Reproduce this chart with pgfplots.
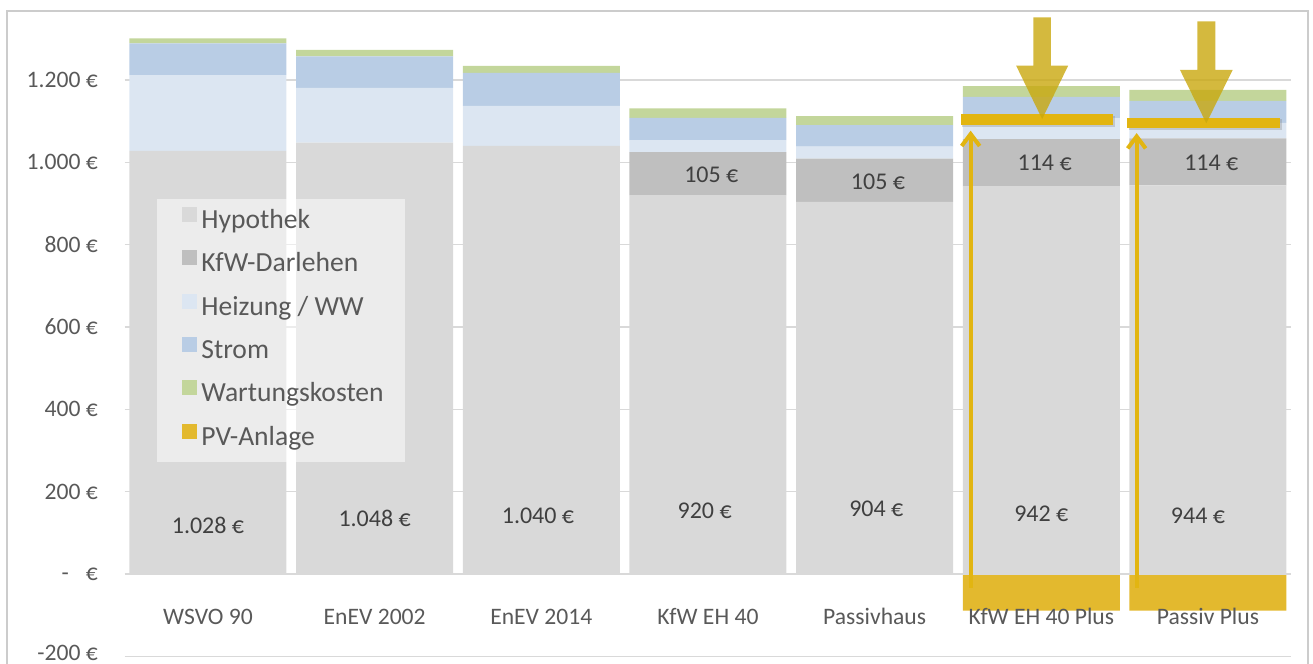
\documentclass[border=0pt]{standalone}
\usepackage{fontspec}
\setmainfont{Carlito}
\usepackage{pgfplots}
\pgfplotsset{compat=1.18}
\usetikzlibrary{arrows.meta,shadows}
\definecolor{hyp}{HTML}{D9D9D9}
\definecolor{kfw}{HTML}{BFBFBF}
\definecolor{heiz}{HTML}{DCE6F2}
\definecolor{strom}{HTML}{B9CDE5}
\definecolor{wart}{HTML}{C3D69B}
\definecolor{pv}{HTML}{E3B92E}
\definecolor{tickgray}{HTML}{595959}
\definecolor{dlgray}{HTML}{404040}
\definecolor{gridc}{HTML}{D9D9D9}
\definecolor{framegray}{HTML}{CCCCCC}
\definecolor{barsgold}{HTML}{E2B511}
\definecolor{arrowgold}{HTML}{C9A80E}
\tikzset{dl/.style={font=\fontsize{12}{14}\selectfont, text=dlgray, anchor=center, inner sep=0pt}}
\begin{document}
\begin{tikzpicture}
\useasboundingbox (-62.33pt,-3.85pt) rectangle (594.17pt,328.15pt);
\draw[framegray,line width=1pt] (-58.58pt,-10pt) -- (-58.58pt,322.65pt) -- (591.67pt,322.65pt) -- (591.67pt,-10pt);
\pgfplotsset{
  common/.style={scale only axis, width=583.33pt, height=323.16pt,
    xmin=-0.5, xmax=6.5, ymin=-200, ymax=1370, at={(0pt,0pt)}, anchor=south west},
  sq/.style={draw=none, legend image code/.code={\path (0pt,0pt); \fill[##1, fill opacity=1, draw=none] (4.15pt,0pt) rectangle (11.65pt,7.5pt);}}
}
% PV-Anlage (negative values), drawn first so that the category labels lie on top
\begin{axis}[common, hide axis, ybar, bar width=78.5pt, bar shift=0pt]
\addplot[draw=none, fill=pv] coordinates {(0,0) (1,0) (2,0) (3,0) (4,0) (5,-89) (6,-89)};
\end{axis}
% stacked positive costs
\begin{axis}[common, ybar stacked, bar width=78.5pt,
  axis line style={draw=none}, tick style={draw=none},
  ymajorgrids, grid style={gridc, line width=0.75pt},
  xtick={0,...,6},
  xticklabels={WSVO 90, EnEV 2002, EnEV 2014, KfW EH 40, Passivhaus, KfW EH 40 Plus, Passiv Plus},
  ytick={-200,0,200,400,600,800,1000,1200},
  yticklabels={{\raisebox{3pt}{-200 €}}, {-\hspace{8.5pt}€}, 200 €, 400 €, 600 €, 800 €, 1.000 €, 1.200 €},
  ticklabel style={font=\fontsize{11.8}{14}\selectfont, text=tickgray},
  yticklabel style={xshift=-9.9pt, inner ysep=0pt},
  xticklabel style={anchor=base, yshift=15.65pt},
  legend cell align=left,
  legend style={at={(0.02745,0.7087)}, anchor=north west, draw=none,
    fill=white, fill opacity=0.5, text opacity=1,
    inner xsep=8.5pt, inner ysep=3.5pt, row sep=5.15pt,
    font=\fontsize{13.8}{16}\selectfont, text=tickgray,
    nodes={text height=9.5pt, text depth=3pt}},
]
\addplot[sq, fill=hyp] coordinates {(0,1028) (1,1048) (2,1040) (3,920) (4,904) (5,942) (6,944)};
\addplot[sq, fill=kfw] coordinates {(0,0) (1,0) (2,0) (3,105) (4,105) (5,114) (6,114)};
\addplot[sq, fill=heiz] coordinates {(0,184) (1,133) (2,97) (3,29) (4,29) (5,51) (6,38)};
\addplot[sq, fill=strom] coordinates {(0,77) (1,76) (2,80) (3,54) (4,52) (5,52) (6,53)};
\addplot[sq, fill=wart] coordinates {(0,12) (1,16) (2,17) (3,23) (4,22) (5,26) (6,27)};
\addlegendimage{sq, fill=pv}
\legend{Hypothek, KfW-Darlehen, Heizung / WW, Strom, Wartungskosten, PV-Anlage}
\end{axis}
% labels and annotations on top
\begin{axis}[common, hide axis, clip=false]
\node[dl] at (axis cs:0,119) {1.028 €};
\node[dl] at (axis cs:1,134) {1.048 €};
\node[dl] at (axis cs:1.98,141) {1.040 €};
\node[dl] at (axis cs:2.98,153) {920 €};
\node[dl] at (axis cs:4.01,158) {904 €};
\node[dl] at (axis cs:5,146) {942 €};
\node[dl] at (axis cs:5.94,141) {944 €};
\node[dl] at (axis cs:3.02,969) {105 €};
\node[dl] at (axis cs:4.02,952) {105 €};
\node[dl] at (axis cs:5.02,998) {114 €};
\node[dl] at (axis cs:6.02,998) {114 €};
\fill[barsgold, drop shadow={shadow xshift=0.8pt, shadow yshift=-0.8pt, opacity=0.3}] (axis cs:4.516,1090.7) rectangle (axis cs:5.432,1116.7);
\fill[barsgold, drop shadow={shadow xshift=0.8pt, shadow yshift=-0.8pt, opacity=0.3}] (axis cs:5.516,1082.7) rectangle (axis cs:6.432,1108.4);
\draw[barsgold, line width=2pt, -{Straight Barb[length=6pt,width=9pt]}] (axis cs:4.576,-34) -- (axis cs:4.576,1076.8);
\draw[barsgold, line width=2pt, -{Straight Barb[length=6pt,width=9pt]}] (axis cs:5.572,-34) -- (axis cs:5.572,1071);
\fill[arrowgold, fill opacity=0.8] (axis cs:4.952,1352) -- (axis cs:5.058,1352) -- (axis cs:5.058,1234.7) -- (axis cs:5.161,1234.7) -- (axis cs:5.005,1105) -- (axis cs:4.849,1234.7) -- (axis cs:4.952,1234.7) -- cycle;
\fill[arrowgold, fill opacity=0.8] (axis cs:5.936,1342.6) -- (axis cs:6.044,1342.6) -- (axis cs:6.044,1224.3) -- (axis cs:6.148,1224.3) -- (axis cs:5.99,1094.8) -- (axis cs:5.832,1224.3) -- (axis cs:5.936,1224.3) -- cycle;
\end{axis}
\end{tikzpicture}
\end{document}
